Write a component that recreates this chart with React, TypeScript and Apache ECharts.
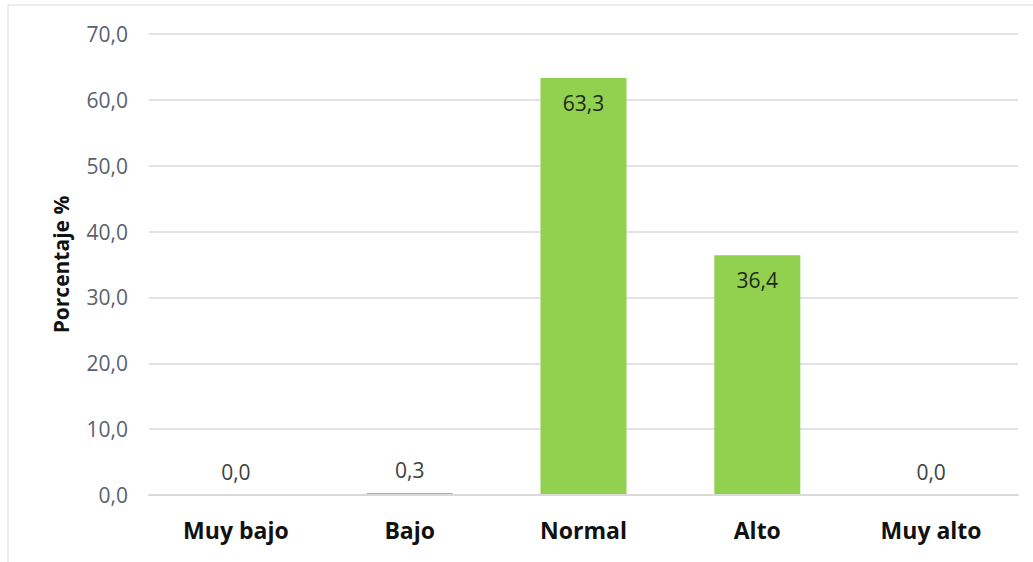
import React, { useEffect, useRef } from "react";
import * as echarts from "echarts";

const categories = ["Muy bajo", "Bajo", "Normal", "Alto", "Muy alto"];
const values = [0.0, 0.3, 63.3, 36.4, 0.0];
const yAxisName = "Porcentaje %";
const yMin = 0;
const yMax = 70;
const yInterval = 10;

const fmt = (v: number) => v.toFixed(1).replace(".", ",");

export default function App() {
  const ref = useRef<HTMLDivElement>(null);
  useEffect(() => {
    if (!ref.current) return;
    const chart = echarts.init(ref.current, undefined, { renderer: "svg" });
    const font = "'Open Sans', 'Noto Sans', sans-serif";
    chart.setOption({
      animation: false,
      backgroundColor: "#ffffff",
      graphic: [
        {
          type: "rect",
          shape: { x: 8, y: 5, width: 1040, height: 580 },
          style: { fill: "none", stroke: "#d9d9d9", lineWidth: 1 },
          silent: true,
          z: -10,
        },
      ],
      grid: { left: 149, right: 15, top: 34, bottom: 67 },
      xAxis: {
        type: "category",
        data: categories,
        z: 3,
        axisLine: { show: true, lineStyle: { color: "#d9d9d9", width: 2 } },
        axisTick: { show: false },
        axisLabel: {
          color: "#111111",
          fontWeight: "bold",
          fontSize: 23,
          fontFamily: font,
          margin: 23,
        },
      },
      yAxis: {
        type: "value",
        min: yMin,
        max: yMax,
        interval: yInterval,
        name: yAxisName,
        nameLocation: "middle",
        nameGap: 78,
        nameTextStyle: {
          color: "#111111",
          fontWeight: "bold",
          fontSize: 21,
          fontFamily: font,
        },
        axisLine: { show: false },
        axisTick: { show: false },
        splitLine: { lineStyle: { color: "#d9d9d9", width: 1.5 } },
        axisLabel: {
          color: "#5a6170",
          fontSize: 21,
          fontFamily: font,
          margin: 21,
          formatter: (v: number) => fmt(v),
        },
      },
      series: [
        {
          type: "bar",
          barWidth: 86,
          itemStyle: { color: "#92d050" },
          data: values.map((v) => ({
            value: v,
            label: {
              show: true,
              position: v > 5 ? "insideTop" : "top",
              distance: v > 5 ? 14 : 13,
              color: v > 5 ? "#1f2a1a" : "#404040",
              fontSize: 21,
              fontFamily: font,
              formatter: () => fmt(v),
            },
          })),
        },
      ],
    });
    return () => chart.dispose();
  }, []);
  return (
    <div
      ref={ref}
      style={{ position: "fixed", left: 0, top: 0, width: 1033, height: 562 }}
    />
  );
}
